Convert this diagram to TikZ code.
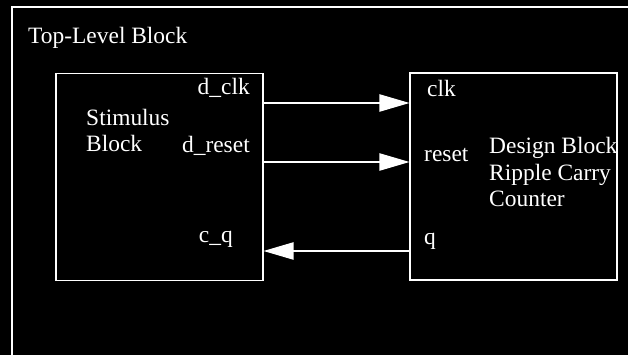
\documentclass[tikz,border=0pt]{standalone}
\usepackage{fontspec}
\setmainfont{Liberation Serif}
\usetikzlibrary{arrows.meta,positioning,calc}
\tikzset{
  blk/.style={draw=white, line width=1.2pt, minimum width=6.2cm, minimum height=6.2cm, inner sep=0pt},
  lbl/.style={text=white, inner sep=0pt, font=\fontsize{20}{23}\selectfont},
  sig/.style={draw=white, line width=1pt, -{Triangle[length=9mm, width=5.2mm]}}
}
\begin{document}
\begin{tikzpicture}
\clip (0,0) rectangle (18.84,10.65);
\fill[black] (0,0) rectangle (18.84,10.65);
% outer frame runs off the page to the right and below
\draw[white, line width=1.1pt] (0.36,-1) rectangle (20,10.44);
\node[lbl, anchor=base west] (toplbl) at (0.84,9.33) {Top-Level Block};

% the two blocks
\node[blk] (stim) at (4.785,5.34) {};
\node[blk] (dut) at (15.405,5.355) {};

% multi-line names sit on the baseline of their last line
\node[lbl, anchor=base west, align=left] (stimname) at (2.58,6.09) {Stimulus\\Block};
\node[lbl, anchor=base west, align=left] (dutname) at (14.67,4.44) {Design Block\\Ripple Carry\\Counter};

% ports
\node[lbl, anchor=base east] (dclk) at (7.5,7.8) {d\_clk};
\node[lbl, anchor=base east] (dreset) at (7.5,6.06) {d\_reset};
\node[lbl, anchor=base east] (cq) at (6.99,3.36) {c\_q};
\node[lbl, anchor=base west] (clk) at (12.81,7.74) {clk};
\node[lbl, anchor=base west] (reset) at (12.72,5.79) {reset};
\node[lbl, anchor=base west] (q) at (12.72,3.3) {q};

\coordinate (clky) at (0,7.56);
\coordinate (resety) at (0,5.79);
\coordinate (qy) at (0,3.12);
\draw[sig] (stim.east |- clky) -- (dut.west |- clky);
\draw[sig] (stim.east |- resety) -- (dut.west |- resety);
\draw[sig] (dut.west |- qy) -- (stim.east |- qy);
\end{tikzpicture}
\end{document}
